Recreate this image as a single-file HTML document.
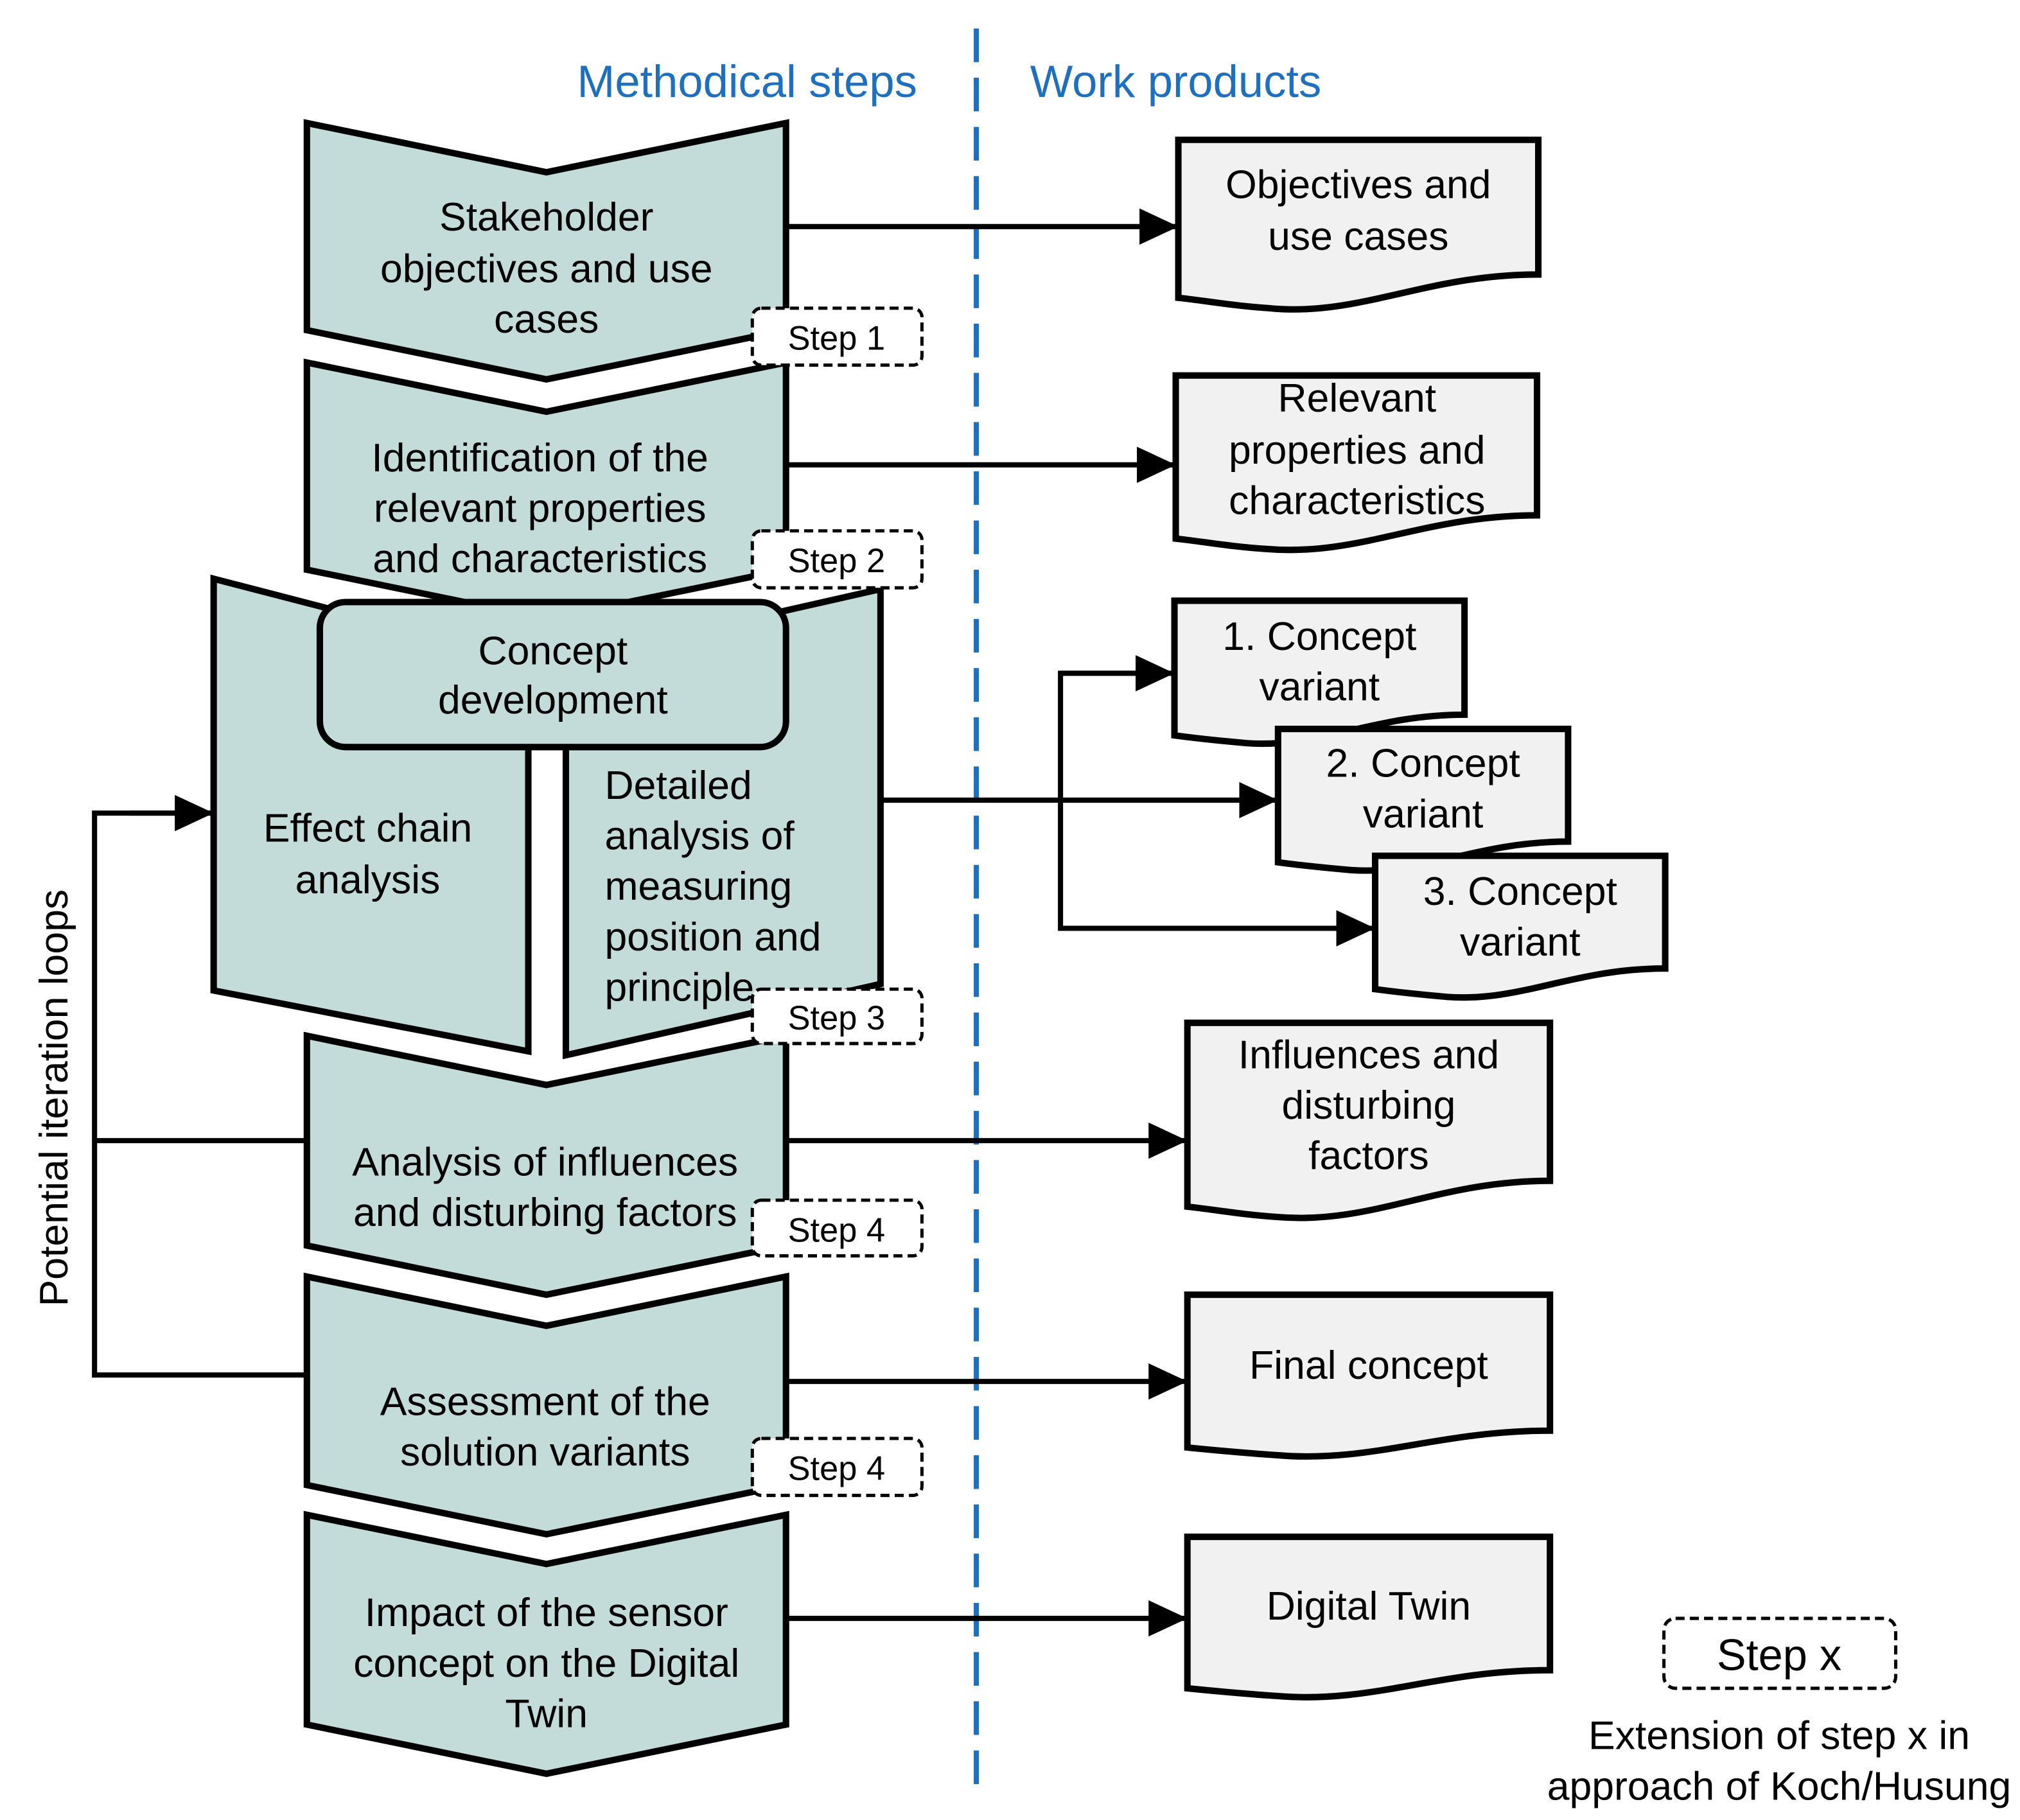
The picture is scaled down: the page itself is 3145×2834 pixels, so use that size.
<!DOCTYPE html>
<html><head><meta charset="utf-8"><style>
html,body{margin:0;padding:0;background:#fff;font-family:"Liberation Sans",Arial,Helvetica,sans-serif;}
svg{display:block;}
svg text,svg{font-family:"Liberation Sans",Arial,Helvetica,sans-serif;}
</style></head><body>
<svg width="3145" height="2834" viewBox="0 0 1560 1405.7" xmlns="http://www.w3.org/2000/svg" font-family="Liberation Sans, Arial, Helvetica, sans-serif">
<defs>
<marker id="a" markerWidth="30" markerHeight="28" refX="28" refY="14" orient="auto" markerUnits="userSpaceOnUse">
<path d="M0,0 L30,14 L0,28 Z" fill="#000"/>
</marker>
</defs>
<rect width="1560" height="1406" fill="#fff"/>
<line x1="754" y1="22" x2="754" y2="1385" stroke="#1f6fbf" stroke-width="4" stroke-dasharray="26,12"/>
<text x="577" y="75" font-size="35" fill="#1f6fbf" text-anchor="middle">Methodical steps</text>
<text x="908" y="75" font-size="35" fill="#1f6fbf" text-anchor="middle">Work products</text>

<g fill="#c3dbd9" stroke="#000" stroke-width="5" stroke-linejoin="miter">
<polygon points="237,95 422,133 607,95 607,255 422,293 237,255"/>
<polygon points="237,280 422,318 607,280 607,440 422,478 237,440"/>
<polygon points="165,447 408,510 408,812 165,765"/>
<polygon points="437,510 680,455 680,760 437,815"/>
<polygon points="237,800 422,838 607,800 607,962 422,1000 237,962"/>
<polygon points="237,986 422,1024 607,986 607,1147 422,1185 237,1147"/>
<polygon points="237,1170 422,1208 607,1170 607,1332 422,1370 237,1332"/>
<rect x="247" y="465" width="360" height="112" rx="20" ry="20"/>
</g>

<g font-size="31" text-anchor="middle" fill="#000">
<text x="422" y="178">Stakeholder</text><text x="422" y="218">objectives and use</text><text x="422" y="257">cases</text>
<text x="417" y="364">Identification of the</text><text x="417" y="403">relevant properties</text><text x="417" y="442">and characteristics</text>
<text x="427" y="513">Concept</text><text x="427" y="551">development</text>
<text x="284" y="650">Effect chain</text><text x="284" y="690">analysis</text>
<g text-anchor="start"><text x="467" y="617">Detailed</text><text x="467" y="656">analysis of</text><text x="467" y="695">measuring</text><text x="467" y="734">position and</text><text x="467" y="773">principle</text></g>
<text x="421" y="908">Analysis of influences</text><text x="421" y="947">and disturbing factors</text>
<text x="421" y="1093">Assessment of the</text><text x="421" y="1132">solution variants</text>
<text x="422" y="1256">Impact of the sensor</text><text x="422" y="1295">concept on the Digital</text><text x="422" y="1334">Twin</text>
</g>

<g fill="#fff" stroke="#000" stroke-width="2.5" stroke-dasharray="7,4">
<rect x="581" y="238" width="131" height="44" rx="7"/>
<rect x="581" y="410" width="131" height="44" rx="7"/>
<rect x="581" y="764" width="131" height="42" rx="7"/>
<rect x="581" y="927" width="131" height="43" rx="7"/>
<rect x="581" y="1111" width="131" height="44" rx="7"/>
<rect x="1285" y="1250" width="179" height="54" rx="9"/>
</g>
<g font-size="26" text-anchor="middle">
<text x="646" y="270">Step 1</text><text x="646" y="442">Step 2</text><text x="646" y="795">Step 3</text><text x="646" y="959">Step 4</text><text x="646" y="1143">Step 4</text>
</g>
<text x="1374" y="1290" font-size="34" text-anchor="middle">Step x</text>
<text x="1374" y="1351" font-size="31" text-anchor="middle">Extension of step x in</text>
<text x="1374" y="1390" font-size="31" text-anchor="middle">approach of Koch/Husung</text>
<text transform="translate(52,848) rotate(-90)" font-size="31" text-anchor="middle">Potential iteration loops</text>

<g fill="#f1f1f1" stroke="#000" stroke-width="5">
<path d="M910,108 H1188 V212 C1100,212 1050,245 980,238 C950,236 930,232 910,230 Z"/>
<path d="M908,290 H1187 V398 C1100,398 1050,430 978,424 C948,422 928,418 908,416 Z"/>
<path d="M907,464 H1131 V552 C1060,552 1020,578 963,574 C940,572 922,570 907,568 Z"/>
<path d="M987,563 H1211 V650 C1140,650 1100,676 1043,672 C1020,670 1002,668 987,666 Z"/>
<path d="M1062,661 H1286 V748 C1215,748 1175,774 1118,770 C1095,768 1077,766 1062,764 Z"/>
<path d="M917,790 H1197 V912 C1110,912 1060,946 987,940 C957,938 937,934 917,932 Z"/>
<path d="M917,1000 H1197 V1105 C1110,1105 1060,1130 987,1124 C957,1122 937,1120 917,1118 Z"/>
<path d="M917,1187 H1197 V1290 C1110,1290 1060,1316 987,1310 C957,1308 937,1306 917,1304 Z"/>
</g>
<g font-size="31" text-anchor="middle">
<text x="1049" y="153">Objectives and</text><text x="1049" y="193">use cases</text>
<text x="1048" y="318">Relevant</text><text x="1048" y="358">properties and</text><text x="1048" y="397">characteristics</text>
<text x="1019" y="502">1. Concept</text><text x="1019" y="541">variant</text>
<text x="1099" y="600">2. Concept</text><text x="1099" y="639">variant</text>
<text x="1174" y="699">3. Concept</text><text x="1174" y="738">variant</text>
<text x="1057" y="825">Influences and</text><text x="1057" y="864">disturbing</text><text x="1057" y="903">factors</text>
<text x="1057" y="1065">Final concept</text>
<text x="1057" y="1251">Digital Twin</text>
</g>

<g stroke="#000" stroke-width="4" fill="none">
<line x1="607" y1="175" x2="908" y2="175" marker-end="url(#a)"/>
<line x1="607" y1="359" x2="906" y2="359" marker-end="url(#a)"/>
<line x1="680" y1="618" x2="985" y2="618" marker-end="url(#a)"/>
<line x1="607" y1="881" x2="915" y2="881" marker-end="url(#a)"/>
<line x1="607" y1="1067" x2="915" y2="1067" marker-end="url(#a)"/>
<line x1="607" y1="1250" x2="915" y2="1250" marker-end="url(#a)"/>
<polyline points="905,520 819,520 819,717 1060,717" />
<line x1="819" y1="520" x2="905" y2="520" marker-end="url(#a)"/>
<line x1="1000" y1="717" x2="1060" y2="717" marker-end="url(#a)"/>
<polyline points="237,1062 73,1062 73,628 163,628"/>
<line x1="100" y1="628" x2="163" y2="628" marker-end="url(#a)"/>
<line x1="73" y1="881" x2="237" y2="881"/>
</g>
</svg>
</body></html>
